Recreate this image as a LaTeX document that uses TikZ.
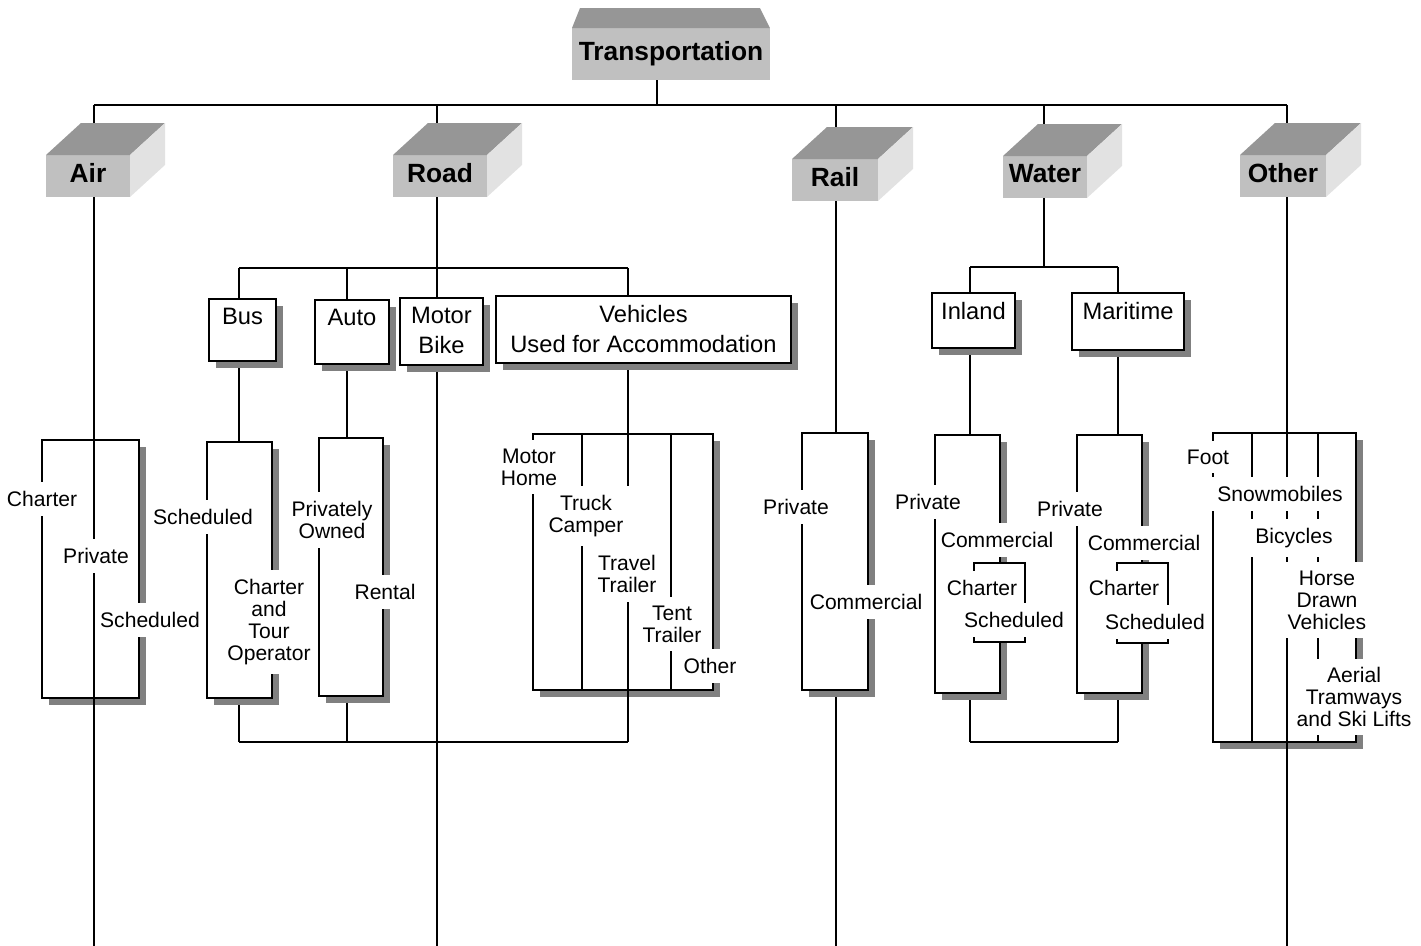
\documentclass[tikz,border=0pt]{standalone}
\usepackage{fontspec}
\setmainfont{Liberation Sans}
\usepackage{tikz}
\usetikzlibrary{positioning}
\definecolor{shadowGray}{RGB}{128,128,128}
\definecolor{topGray}{RGB}{150,150,150}
\definecolor{frontGray}{RGB}{192,192,192}
\definecolor{sideGray}{RGB}{226,226,226}
\tikzstyle{chart} = [x=0.02cm, y=-0.02cm]
\tikzstyle{connector} = [line width=0.8pt]
\tikzstyle{divider} = [line width=0.8pt]
\tikzstyle{boxStyle} = [draw, fill=white, line width=1.5pt, inner sep=0pt, outer sep=0pt]
\tikzstyle{partBox} = [draw, fill=white, line width=1.2pt, inner sep=0pt, outer sep=0pt]
\tikzstyle{catFront} = [fill=frontGray, minimum height=0.84cm, inner sep=0pt, outer sep=0pt, text depth=4pt, font=\fontsize{15}{18}\selectfont\bfseries]
\tikzstyle{catTop} = [fill=topGray]
\tikzstyle{catSide} = [fill=sideGray]
\tikzstyle{headText} = [anchor=north, inner sep=5pt, align=center, font=\fontsize{13.5}{17}\selectfont]
\tikzstyle{itemText} = [fill=white, inner xsep=3pt, inner ysep=5pt, align=center, font=\fontsize{12}{12.5}\selectfont]
% box with drop shadow: name, left, top, right, bottom
\newcommand{\shadowBox}[5]{
  \fill[shadowGray] (#2+7,#3+7) rectangle (#4+7,#5+7);
  \node[boxStyle, minimum width={(#4-#2)*0.02cm}, minimum height={(#5-#3)*0.02cm}] (#1) at ({(#2+#4)/2},{(#3+#5)/2}) {};
}
\newcommand{\plainBox}[5]{
  \node[partBox, minimum width={(#4-#2)*0.02cm}, minimum height={(#5-#3)*0.02cm}] (#1) at ({(#2+#4)/2},{(#3+#5)/2}) {};
}
\newcommand{\headBox}[6]{
  \shadowBox{#1}{#2}{#3}{#4}{#5}
  \node[headText] (#1Text) at (#1.north) {#6};
}
% 3d box: name, x, y, width, text
\newcommand{\catBox}[5]{
  \node[catFront, minimum width={#4*0.02cm}] (#1) at (#2,#3) {#5};
  \fill[catTop] (#1.north west) -- ([shift={(35,-32)}]#1.north west) -- ([shift={(35,-32)}]#1.north east) -- (#1.north east) -- cycle;
  \fill[catSide] (#1.north east) -- ([shift={(35,-32)}]#1.north east) -- ([shift={(35,-32)}]#1.south east) -- (#1.south east) -- cycle;
}

\begin{document}
\begin{tikzpicture}[chart]
\useasboundingbox (0,0) rectangle (1421,946);
% line positions
\coordinate (barY) at (0,105);
\coordinate (bottomY) at (0,946);
\coordinate (transpX) at (657,54);
\coordinate (airX) at (94,0);
\coordinate (roadX) at (437,0);
\coordinate (railX) at (836,0);
\coordinate (waterX) at (1044,0);
\coordinate (otherX) at (1287,0);
\coordinate (roadBar) at (0,268);
\coordinate (roadFoot) at (0,742);
\coordinate (busX) at (239,0);
\coordinate (autoX) at (347,0);
\coordinate (vehX) at (628,0);
\coordinate (waterBar) at (0,267);
\coordinate (waterFoot) at (0,742);
\coordinate (inlandX) at (970,0);
\coordinate (mariX) at (1118,0);

% connectors
\draw[connector] (transpX) -- (transpX |- barY);
\draw[connector] (airX |- barY) -- (otherX |- barY);
\foreach \n in {airX,roadX,railX,otherX}
  \draw[connector] (\n |- barY) -- (\n |- bottomY);
\draw[connector] (waterX |- barY) -- (waterX |- waterBar);
\draw[connector] (busX |- roadBar) -- (vehX |- roadBar);
\draw[connector] (busX |- roadFoot) -- (vehX |- roadFoot);
\foreach \n in {busX,autoX,vehX}
  \draw[connector] (\n |- roadBar) -- (\n |- roadFoot);
\draw[connector] (inlandX |- waterBar) -- (mariX |- waterBar);
\draw[connector] (inlandX |- waterFoot) -- (mariX |- waterFoot);
\foreach \n in {inlandX,mariX}
  \draw[connector] (\n |- waterBar) -- (\n |- waterFoot);

% lower boxes
\shadowBox{airSub}{42}{440}{139}{698}
\shadowBox{busSub}{207}{442}{272}{698}
\shadowBox{autoSub}{319}{438}{383}{696}
\shadowBox{vehSub}{533}{434}{713}{690}
\shadowBox{railSub}{802}{433}{868}{690}
\shadowBox{inlandSub}{935}{435}{1000}{693}
\shadowBox{mariSub}{1077}{435}{1142}{693}
\shadowBox{otherSub}{1213}{433}{1356}{742}
\plainBox{inlandPart}{974}{563}{1025}{642}
\plainBox{mariPart}{1117}{563}{1168}{643}
\foreach \x/\t/\b in {94/440/705, 582/434/690, 628/434/697, 671/434/690, 1252/433/742, 1287/433/749, 1318/433/742}
  \draw[divider] (\x,\t) -- (\x,\b);

% heads
\headBox{busHead}{209}{299}{276}{361}{Bus}
\headBox{autoHead}{315}{300}{389}{364}{Auto}
\headBox{bikeHead}{400}{298}{483}{365}{Motor\\Bike}
\headBox{vehHead}{496}{296}{791}{363}{Vehicles\\Used for Accommodation}
\headBox{inlandHead}{932}{293}{1015}{348}{Inland}
\headBox{mariHead}{1072}{293}{1184}{350}{Maritime}

\catBox{air}{88}{176}{84}{Air}
\catBox{road}{440}{176}{94}{Road}
\catBox{rail}{835}{180}{86}{Rail}
\catBox{water}{1045}{177}{84}{Water}
\catBox{other}{1283}{176}{86}{Other}
\node[catFront, minimum width=3.96cm, minimum height=1.04cm] (transp) at (671,54) {Transportation};
\fill[catTop] (transp.north west) -- ([shift={(8,-20)}]transp.north west) -- ([shift={(-10,-20)}]transp.north east) -- (transp.north east) -- cycle;

% item labels
\node[itemText] (airCharter) at (42,499) {Charter};
\node[itemText] (airPrivate) at (96,556) {Private};
\node[itemText] (airSched) at (150,620) {Scheduled};
\node[itemText] (busSched) at (203,517) {Scheduled};
\node[itemText] (busCharter) at (269,622) {Charter\\and\\Tour\\Operator};
\node[itemText] (autoPrivate) at (332,520) {Privately\\Owned};
\node[itemText] (autoRental) at (385,592) {Rental};
\node[itemText] (vehMotor) at (529,467) {Motor\\Home};
\node[itemText] (vehTruck) at (586,516) {Truck\\Camper};
\node[itemText] (vehTravel) at (627,574) {Travel\\Trailer};
\node[itemText] (vehTent) at (672,624) {Tent\\Trailer};
\node[itemText] (vehOther) at (710,666) {Other};
\node[itemText] (railPrivate) at (796,507) {Private};
\node[itemText] (railComm) at (866,602) {Commercial};
\node[itemText] (inlandPrivate) at (928,502) {Private};
\node[itemText] (inlandComm) at (997,540) {Commercial};
\node[itemText] (inlandCharter) at (982,588) {Charter};
\node[itemText] (inlandSched) at (1014,620) {Scheduled};
\node[itemText] (mariPrivate) at (1070,509) {Private};
\node[itemText] (mariComm) at (1144,543) {Commercial};
\node[itemText] (mariCharter) at (1124,588) {Charter};
\node[itemText] (mariSched) at (1155,622) {Scheduled};
\node[itemText] (otherFoot) at (1208,457) {Foot};
\node[itemText] (otherSnow) at (1280,494) {Snowmobiles};
\node[itemText] (otherBike) at (1294,538) {Bicycles};
\node[itemText] (otherHorse) at (1327,600) {Horse\\Drawn\\Vehicles};
\node[itemText] (otherAerial) at (1354,697) {Aerial\\Tramways\\and Ski Lifts};
\end{tikzpicture}
\end{document}
